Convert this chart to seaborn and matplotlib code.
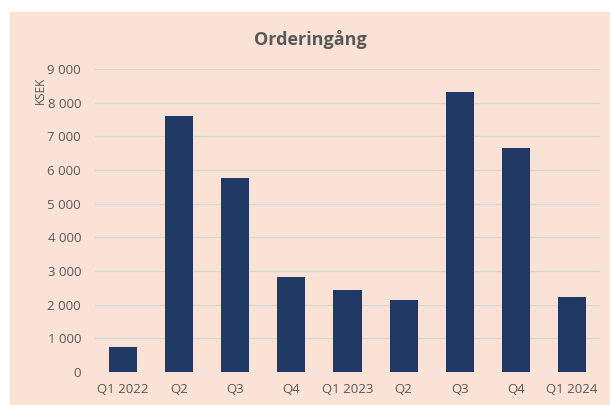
import matplotlib
matplotlib.use("Agg")
import matplotlib.pyplot as plt
import matplotlib.patches as mpatches
from matplotlib.ticker import FuncFormatter
import seaborn as sns
import pandas as pd

categories = ["Q1 2022", "Q2", "Q3", "Q4", "Q1 2023", "Q2 ", "Q3 ", "Q4 ", "Q1 2024"]
tick_labels = ["Q1 2022", "Q2", "Q3", "Q4", "Q1 2023", "Q2", "Q3", "Q4", "Q1 2024"]
values = [750, 7600, 5770, 2830, 2450, 2140, 8330, 6660, 2230]
yticks = [0, 1000, 2000, 3000, 4000, 5000, 6000, 7000, 8000, 9000]

sns.set_theme(style="white")
plt.rcParams["font.family"] = ["Open Sans", "DejaVu Sans"]

peach = "#FAE3D6"
bar_color = "#1F3864"
text_gray = "#595959"
grid_color = "#D9D6D6"

fig = plt.figure(figsize=(6.10, 4.05), dpi=100)
fig.patch.set_facecolor("white")
fig.add_artist(mpatches.Rectangle((10 / 610, 0), 1, 1 - 12 / 405,
                                  transform=fig.transFigure, facecolor=peach,
                                  edgecolor="none", zorder=0))

ax = fig.add_axes([95 / 610, 1 - 372 / 405, (600 - 95) / 610, (372 - 69) / 405])
ax.set_facecolor("none")

df = pd.DataFrame({"cat": categories, "val": values})
sns.barplot(data=df, x="cat", y="val", color=bar_color, saturation=1,
            width=0.5, ax=ax, zorder=3, linewidth=0, edgecolor="none")

ax.set_ylim(0, 9000)
ax.set_xlim(-0.5, 8.5)
ax.set_yticks(yticks)
ax.yaxis.set_major_formatter(FuncFormatter(lambda v, p: f"{int(v):,}".replace(",", " ")))
ax.set_xticks(range(len(tick_labels)))
ax.set_xticklabels(tick_labels)
ax.grid(axis="y", color=grid_color, linewidth=1, zorder=0)
ax.set_axisbelow(True)
for s in ax.spines.values():
    s.set_visible(False)
ax.tick_params(axis="both", length=0, colors=text_gray, labelsize=9.5)
ax.tick_params(axis="y", pad=10)
ax.tick_params(axis="x", pad=8)
ax.set_xlabel("")
ax.set_ylabel("")

fig.text(40 / 610, 1 - 90 / 405, "KSEK", rotation=90, ha="center", va="center",
         color=text_gray, fontsize=8.5)
fig.text(310 / 610, 1 - 40 / 405, "Orderingång", ha="center", va="center",
         color=text_gray, fontsize=13, fontweight="bold")

fig.savefig("out.png", dpi=100, facecolor=fig.get_facecolor())
